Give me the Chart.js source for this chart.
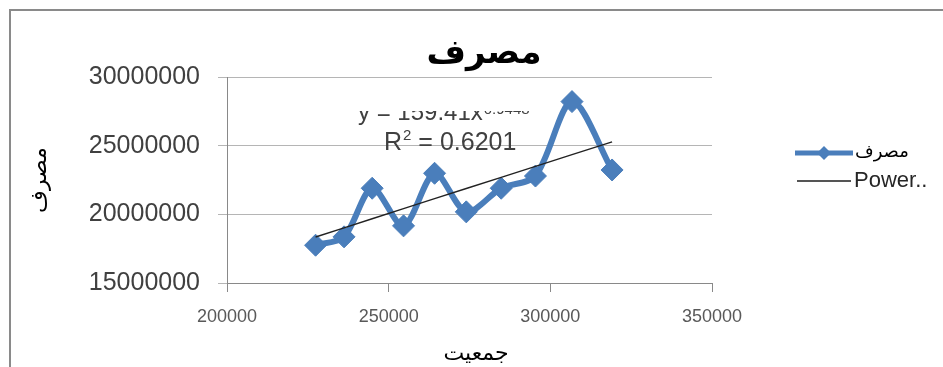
<!DOCTYPE html>
<html>
<head>
<meta charset="utf-8">
<script src="https://cdn.jsdelivr.net/npm/chart.js@4.4.1/dist/chart.umd.min.js"></script>
<style>
    html, body { margin: 0; padding: 0; background: #fff; overflow: hidden; }
    #wrap { position: relative; width: 943px; height: 367px; }
</style>
</head>
<body>
<div id="wrap"><canvas id="chartMasraf"></canvas></div>
<script>
// datos: jamiat (eje x) y masraf (eje y)
const jamiat = [227400, 236200, 244900, 254600, 264200, 274000, 284800, 295400, 306700, 319100];
const masraf = [17750000, 18360000, 21900000, 19160000, 22990000, 20180000, 21900000, 22790000, 28210000, 23230000];
const xTicks = [200000, 250000, 300000, 350000];
const yTicks = [15000000, 20000000, 25000000, 30000000];

// linea de tendencia potencial: y = a * x^b
const powerCoef = 159.41;
const powerExp = 0.9448;
const rSquared = "0.6201";

const titulo = "مصرف";
const tituloX = "جمعیت";
const tituloY = "مصرف";
const leyendaSerie = "مصرف";
const leyendaTrend = "Power..";

const azul = "#4a7ebb";
const gris = "#404040";

const puntos = jamiat.map((x, i) => ({ x: x, y: masraf[i] }));
const tendencia = jamiat.map(x => ({ x: x, y: powerCoef * Math.pow(x, powerExp) }));

const textos = {
    id: "textos",
    beforeDraw(chart) {
        const ctx = chart.ctx;
        ctx.save();
        ctx.fillStyle = "#fff";
        ctx.fillRect(0, 0, chart.width, chart.height);
        // marco
        ctx.strokeStyle = "#8a8a8a";
        ctx.lineWidth = 2;
        ctx.beginPath();
        ctx.moveTo(10, chart.height);
        ctx.lineTo(10, 10);
        ctx.lineTo(chart.width, 10);
        ctx.stroke();
        ctx.restore();
    },
    afterDraw(chart) {
        const ctx = chart.ctx;
        const area = chart.chartArea;
        ctx.save();

        // titulo
        ctx.fillStyle = "#000";
        ctx.textAlign = "center";
        ctx.textBaseline = "middle";
        ctx.font = "bold 34px 'DejaVu Sans'";
        ctx.fillText(titulo, 484, 54);

        // titulo eje x
        ctx.font = "22px 'DejaVu Sans'";
        ctx.fillText(tituloX, 476, 354);

        // titulo eje y
        ctx.save();
        ctx.translate(40, 180);
        ctx.rotate(-Math.PI / 2);
        ctx.fillText(tituloY, 0, 0);
        ctx.restore();

        // ecuacion (solo se ve la parte de abajo)
        ctx.save();
        ctx.beginPath();
        ctx.rect(area.left, 111, area.right - area.left, 20);
        ctx.clip();
        ctx.fillStyle = gris;
        ctx.textAlign = "left";
        ctx.textBaseline = "alphabetic";
        ctx.font = "24px 'Liberation Sans'";
        const eq = "y = " + powerCoef + "x";
        ctx.fillText(eq, 358, 120);
        const w = ctx.measureText(eq).width;
        ctx.font = "15px 'Liberation Sans'";
        ctx.fillText(String(powerExp), 358 + w + 1, 114);
        ctx.restore();

        // R cuadrado
        ctx.fillStyle = gris;
        ctx.textAlign = "left";
        ctx.textBaseline = "alphabetic";
        ctx.font = "25px 'Liberation Sans'";
        ctx.fillText("R", 384, 150);
        let px = 384 + ctx.measureText("R").width;
        ctx.font = "15px 'Liberation Sans'";
        ctx.fillText("2", px + 1, 140);
        px += ctx.measureText("2").width + 1;
        ctx.font = "25px 'Liberation Sans'";
        ctx.fillText(" = " + rSquared, px, 150);

        // leyenda
        ctx.strokeStyle = azul;
        ctx.lineWidth = 5;
        ctx.beginPath();
        ctx.moveTo(795, 153);
        ctx.lineTo(853, 153);
        ctx.stroke();
        ctx.fillStyle = azul;
        ctx.beginPath();
        ctx.moveTo(824, 146);
        ctx.lineTo(831, 153);
        ctx.lineTo(824, 160);
        ctx.lineTo(817, 153);
        ctx.closePath();
        ctx.fill();
        ctx.fillStyle = "#000";
        ctx.textBaseline = "middle";
        ctx.font = "18px 'DejaVu Sans'";
        ctx.fillText(leyendaSerie, 855, 152);

        ctx.strokeStyle = "#555";
        ctx.lineWidth = 2;
        ctx.beginPath();
        ctx.moveTo(797, 181);
        ctx.lineTo(851, 181);
        ctx.stroke();
        ctx.fillStyle = "#262626";
        ctx.font = "22px 'Liberation Sans'";
        ctx.fillText(leyendaTrend, 854, 181);

        ctx.restore();
    }
};

const ctx = document.getElementById("chartMasraf");
new Chart(ctx, {
    type: "scatter",
    data: {
        datasets: [{
            label: leyendaTrend,
            data: tendencia,
            showLine: true,
            borderColor: "#222",
            borderWidth: 1.4,
            pointRadius: 0,
            tension: 0,
            order: 0
        }, {
            label: leyendaSerie,
            data: puntos,
            showLine: true,
            borderColor: azul,
            backgroundColor: azul,
            borderWidth: 6,
            tension: 0.3,
            pointStyle: "rectRot",
            pointRadius: 11,
            pointBorderWidth: 1,
            order: 1
        }]
    },
    plugins: [textos],
    options: {
        responsive: true,
        maintainAspectRatio: false,
        animation: false,
        layout: {
            padding: { left: 10, right: 231, top: 77, bottom: 0 }
        },
        plugins: {
            legend: { display: false },
            tooltip: { enabled: false }
        },
        scales: {
            x: {
                type: "linear",
                min: xTicks[0],
                max: xTicks[xTicks.length - 1],
                afterBuildTicks: s => { s.ticks = xTicks.map(v => ({ value: v })); },
                afterFit: s => { s.height = 84; },
                grid: {
                    drawOnChartArea: false,
                    drawTicks: true,
                    tickLength: 9,
                    color: "#898989"
                },
                border: { color: "#898989", width: 1 },
                ticks: {
                    font: { family: "'Liberation Sans'", size: 18 },
                    color: "#595959",
                    padding: 14,
                    maxRotation: 0,
                    callback: v => String(v)
                }
            },
            y: {
                min: yTicks[0],
                max: yTicks[yTicks.length - 1],
                afterBuildTicks: s => { s.ticks = yTicks.map(v => ({ value: v })); },
                afterFit: s => { s.width = 217; },
                grid: {
                    drawTicks: true,
                    tickLength: 9,
                    color: "#b5b5b5"
                },
                border: { color: "#898989", width: 1 },
                ticks: {
                    font: { family: "'Liberation Sans'", size: 25 },
                    color: gris,
                    padding: 18,
                    callback: v => String(v)
                }
            }
        }
    }
});
</script>
</body>
</html>
